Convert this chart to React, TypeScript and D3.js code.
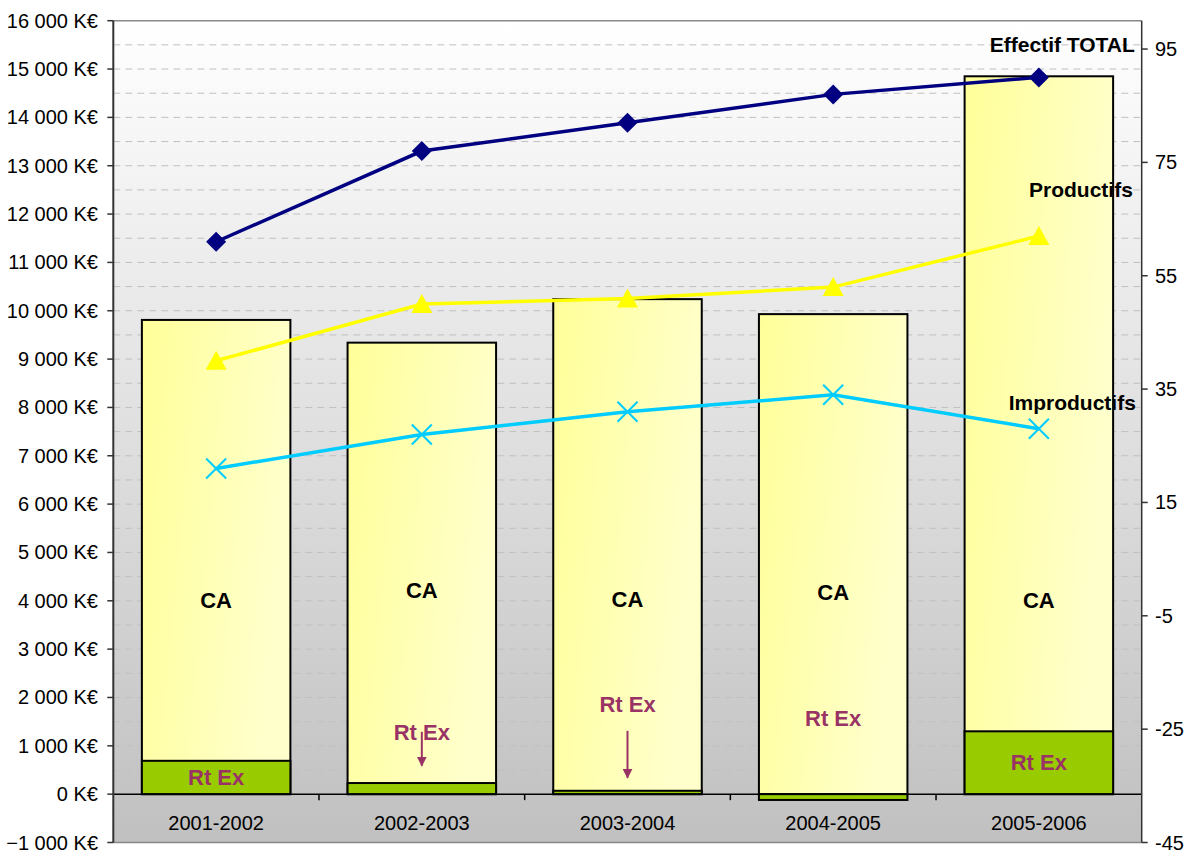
import React from "react";
import * as d3 from "d3";

const categories = ["2001-2002", "2002-2003", "2003-2004", "2004-2005", "2005-2006"];
const caValues = [9810, 9340, 10240, 9930, 14850];
const rtExValues = [690, 230, 70, -120, 1300];
const effectifTotal = [61, 77, 82, 87, 90];
const productifs = [40, 50, 51, 53, 62];
const improductifs = [21, 27, 31, 34, 28];
const leftTicks = d3.range(-1000, 16001, 1000);
const rightTicks = [-45, -25, -5, 15, 35, 55, 75, 95];
const gridValues = d3.range(500, 16000, 500);

// where the hand-placed labels sit, in K€
const caLabelAt = [4000, 4220, 4040, 4180, 4000];
const rtExLabelAt = [345, 1270, 1850, 1560, 650];
const rtExArrows: (number[] | null)[] = [null, [1290, 590], [1310, 340], null, null];

const W = 1196;
const H = 850;
const left = 113.3, right = 1141.7, top = 20.7, bottom = 842.5;
const font = "Arial, 'Liberation Sans', sans-serif";
const plum = "#993366";

export default function App() {
    const x = d3.scaleBand<string>()
        .domain(categories)
        .range([left, right])
        .paddingInner(0.278)
        .paddingOuter(0.139);
    const y = d3.scaleLinear().domain([-1000, 16000]).range([bottom, top]);
    const y2 = d3.scaleLinear().domain([-45, 100]).range([bottom, top]);
    const bw = x.bandwidth();
    const cx = (c: string) => (x(c) ?? 0) + bw / 2;

    const line = (vals: number[]) =>
        d3.line<number>().x((_, i) => cx(categories[i])).y(v => y2(v))(vals) ?? "";

    const lastX = cx(categories[categories.length - 1]);

    return (
        <svg width={W} height={H} style={{ position: "absolute", left: 0, top: 0 }} fontFamily={font}>
            <defs>
                <linearGradient id="bg" x1="0" y1="0" x2="0" y2="1">
                    <stop offset="0" stopColor="#ffffff" />
                    <stop offset="1" stopColor="#c0c0c0" />
                </linearGradient>
                <linearGradient id="caFill" x1="0" y1="0" x2="1" y2="0.3">
                    <stop offset="0" stopColor="#ffff99" />
                    <stop offset="1" stopColor="#ffffcc" />
                </linearGradient>
                <marker id="arr" viewBox="0 0 10 10" refX="9" refY="5" markerWidth="5" markerHeight="5" orient="auto">
                    <path d="M0,0 L10,5 L0,10 z" fill={plum} />
                </marker>
            </defs>

            <rect x={left} y={top} width={right - left} height={bottom - top} fill="url(#bg)" />

            {gridValues.map(v => (
                <line key={v} x1={left} x2={right} y1={y(v)} y2={y(v)}
                    stroke="#c0c0c0" strokeWidth={1} strokeDasharray="7 5" />
            ))}

            {/* plot frame */}
            <line x1={left} x2={right} y1={top} y2={top} stroke="#888" strokeWidth={1.5} />
            <line x1={left} x2={right} y1={bottom} y2={bottom} stroke="#888" strokeWidth={1.5} />

            {/* CA bars */}
            {categories.map((c, i) => (
                <rect key={"ca" + c} x={x(c)} width={bw} y={y(caValues[i])} height={y(0) - y(caValues[i])}
                    fill="url(#caFill)" stroke="#000" strokeWidth={2} />
            ))}
            {/* Rt Ex bars */}
            {categories.map((c, i) => {
                const v = rtExValues[i];
                return (
                    <rect key={"rt" + c} x={x(c)} width={bw} y={y(Math.max(0, v))}
                        height={Math.abs(y(0) - y(v))} fill="#99cc00" stroke="#000" strokeWidth={2} />
                );
            })}

            {/* category axis at zero */}
            <line x1={left} x2={right} y1={y(0)} y2={y(0)} stroke="#000" strokeWidth={1.5} />
            {d3.range(1, categories.length).map(k => {
                const xx = left + k * x.step();
                return <line key={k} x1={xx} x2={xx} y1={y(0)} y2={y(0) + 6} stroke="#000" strokeWidth={1.5} />;
            })}
            {categories.map(c => (
                <text key={"lab" + c} x={cx(c)} y={830} textAnchor="middle" fontSize={20} fill="#000">{c}</text>
            ))}

            {/* left axis */}
            <line x1={left} x2={left} y1={top} y2={bottom} stroke="#333" strokeWidth={2} />
            {leftTicks.map(t => (
                <g key={t}>
                    <line x1={left - 6} x2={left} y1={y(t)} y2={y(t)} stroke="#333" strokeWidth={1.5} />
                    <text x={98} y={y(t)} dy="0.35em" textAnchor="end" fontSize={20} fill="#000">
                        {d3.format(",")(t).replace(/,/g, "\u00a0").replace("-", "-") + " K€"}
                    </text>
                </g>
            ))}

            {/* right axis */}
            <line x1={right} x2={right} y1={top} y2={bottom} stroke="#333" strokeWidth={1.5} />
            {rightTicks.map(t => (
                <g key={t}>
                    <line x1={right} x2={right + 6} y1={y2(t)} y2={y2(t)} stroke="#333" strokeWidth={1.5} />
                    <text x={1155} y={y2(t)} dy="0.35em" fontSize={20} fill="#000">{t}</text>
                </g>
            ))}

            {/* bar labels */}
            {categories.map((c, i) => (
                <text key={"cal" + c} x={cx(c)} y={y(caLabelAt[i])} dy="0.35em" textAnchor="middle"
                    fontSize={22} fontWeight="bold" fill="#000">CA</text>
            ))}
            {categories.map((c, i) => (
                <text key={"rtl" + c} x={cx(c)} y={y(rtExLabelAt[i])} dy="0.35em" textAnchor="middle"
                    fontSize={22} fontWeight="bold" fill={plum}>Rt Ex</text>
            ))}
            {categories.map((c, i) => {
                const a = rtExArrows[i];
                if (!a) return null;
                return <line key={"arr" + c} x1={cx(c)} x2={cx(c)} y1={y(a[0])} y2={y(a[1])}
                    stroke={plum} strokeWidth={2} markerEnd="url(#arr)" />;
            })}

            {/* lines */}
            <path d={line(improductifs)} fill="none" stroke="#00ccff" strokeWidth={3.5} />
            <path d={line(productifs)} fill="none" stroke="#ffff00" strokeWidth={3.5} />
            <path d={line(effectifTotal)} fill="none" stroke="#000080" strokeWidth={3.5} />

            {improductifs.map((v, i) => {
                const px = cx(categories[i]), py = y2(v), r = 10;
                return (
                    <path key={"im" + i} d={`M${px - r},${py - r}L${px + r},${py + r}M${px - r},${py + r}L${px + r},${py - r}`}
                        stroke="#00ccff" strokeWidth={2} fill="none" />
                );
            })}
            {productifs.map((v, i) => {
                const px = cx(categories[i]), py = y2(v);
                return (
                    <path key={"pr" + i} d={`M${px},${py - 10}L${px + 10.5},${py + 9}L${px - 10.5},${py + 9}Z`} fill="#ffff00" />
                );
            })}
            {effectifTotal.map((v, i) => {
                const px = cx(categories[i]), py = y2(v), r = 10;
                return (
                    <path key={"ef" + i} d={`M${px},${py - r}L${px + r},${py}L${px},${py + r}L${px - r},${py}Z`} fill="#000080" />
                );
            })}

            {/* series names near the last point */}
            <text x={lastX + 96} y={y2(effectifTotal[4]) - 25} textAnchor="end" fontSize={21} fontWeight="bold" fill="#000">Effectif TOTAL</text>
            <text x={lastX + 94} y={y2(productifs[4]) - 39} textAnchor="end" fontSize={21} fontWeight="bold" fill="#000">Productifs</text>
            <text x={lastX + 97} y={y2(improductifs[4]) - 19} textAnchor="end" fontSize={21} fontWeight="bold" fill="#000">Improductifs</text>
        </svg>
    );
}
